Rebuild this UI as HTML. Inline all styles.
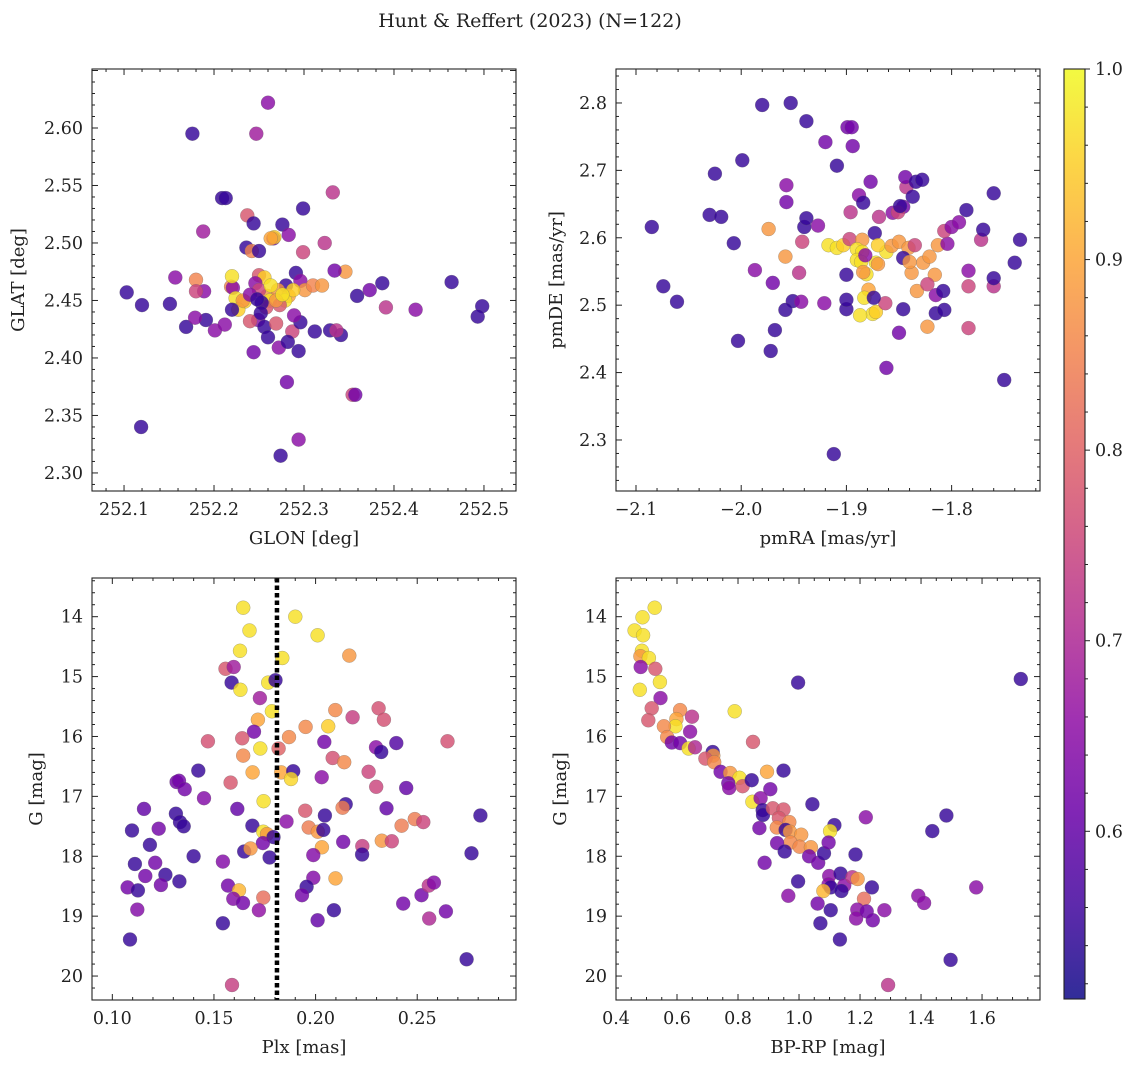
<!DOCTYPE html>
<html><head><meta charset="utf-8"><style>
html,body{margin:0;padding:0;background:#fff;}
svg text{font-family:"DejaVu Serif","Liberation Serif",serif;fill:#222;}
</style></head><body>
<svg id="fig" width="1136" height="1068" xmlns="http://www.w3.org/2000/svg">
<text x="530" y="27" text-anchor="middle" font-size="19">Hunt &amp; Reffert (2023) (N=122)</text>
</svg>
<script>
// ---- Panel 1: GLON vs GLAT ----
const glonA=[252.260,252.176,252.247,252.209,252.213,252.299,252.332,252.237,252.188,252.276,252.244,252.236,252.242,252.250,252.266,252.283,252.323,252.299,252.267,252.263,252.157,252.180,252.189,252.219,252.221,252.250,252.256,252.246,252.220,252.103,252.120,252.151,252.191,252.169,252.179,252.224,252.234,252.259,252.280,252.291,252.296,252.271,252.283,252.301,252.310,252.320,252.346,252.334,252.359,252.373,252.387,252.391,252.424,252.464,252.498,252.493,252.227,252.232,252.262,252.279,252.288,252.273,252.258,252.249,252.220,252.240,252.256,252.269,252.287,252.296,252.312,252.329,252.341,252.336,252.201,252.180,252.212,252.289,252.272,252.294,252.282,252.244,252.260,252.281,252.294,252.274,252.354,252.357,252.119,252.269,252.250,252.253,252.263,252.276,252.240,252.252,252.248];
const glatA=[2.622,2.595,2.595,2.539,2.539,2.530,2.544,2.524,2.510,2.516,2.517,2.496,2.493,2.493,2.504,2.507,2.500,2.492,2.505,2.504,2.470,2.468,2.458,2.462,2.461,2.472,2.470,2.465,2.471,2.457,2.446,2.447,2.433,2.427,2.435,2.452,2.449,2.454,2.463,2.474,2.467,2.459,2.454,2.459,2.463,2.463,2.475,2.476,2.454,2.459,2.465,2.444,2.442,2.466,2.445,2.436,2.442,2.450,2.450,2.450,2.459,2.446,2.444,2.433,2.442,2.432,2.427,2.430,2.423,2.431,2.423,2.424,2.420,2.424,2.424,2.458,2.429,2.437,2.409,2.406,2.414,2.405,2.418,2.379,2.329,2.315,2.368,2.368,2.340,2.450,2.459,2.448,2.463,2.455,2.455,2.439,2.451];
const prob1=[.65,.55,.68,.55,.55,.55,.72,.78,.68,.55,.55,.55,.85,.55,.62,.65,.72,.75,.95,.9,.65,.85,.65,.85,.65,.78,.95,.65,.97,.55,.55,.55,.55,.55,.65,.97,.95,.88,.55,.55,.65,.88,.9,.88,.85,.88,.88,.62,.55,.62,.55,.72,.65,.55,.55,.55,.95,.88,.97,.97,.95,.78,.78,.65,.55,.78,.55,.78,.75,.55,.55,.55,.55,.72,.65,.75,.65,.65,.65,.55,.55,.62,.55,.62,.65,.55,.75,.62,.55,.88,.75,.55,.97,.97,.65,.55,.55];
// ---- Panel 2: pmRA vs pmDE ----
const pmraA=[-2.085,-2.074,-2.061,-2.025,-2.030,-2.019,-2.007,-2.003,-1.980,-1.953,-1.999,-1.938,-1.920,-1.899,-1.895,-1.894,-1.909,-1.940,-1.938,-1.927,-1.957,-1.957,-1.974,-1.958,-1.942,-1.917,-1.909,-1.903,-1.897,-1.896,-1.888,-1.877,-1.884,-1.869,-1.843,-1.844,-1.834,-1.828,-1.837,-1.846,-1.856,-1.851,-1.849,-1.873,-1.885,-1.890,-1.885,-1.890,-1.886,-1.881,-1.872,-1.862,-1.870,-1.870,-1.857,-1.850,-1.841,-1.846,-1.838,-1.840,-1.827,-1.835,-1.821,-1.813,-1.804,-1.807,-1.800,-1.793,-1.786,-1.760,-1.884,-1.879,-1.883,-1.875,-1.887,-1.872,-1.863,-1.874,-1.900,-1.882,-1.900,-1.900,-1.921,-1.951,-1.943,-1.958,-1.945,-1.970,-1.972,-1.968,-1.987,-1.862,-1.850,-1.846,-1.833,-1.823,-1.816,-1.815,-1.808,-1.815,-1.823,-1.784,-1.784,-1.772,-1.770,-1.735,-1.740,-1.750,-1.912,-1.784,-1.760,-1.760,-1.807];
const pmdeA=[2.616,2.528,2.505,2.695,2.634,2.631,2.592,2.447,2.797,2.800,2.715,2.773,2.742,2.764,2.764,2.736,2.707,2.616,2.629,2.618,2.653,2.678,2.613,2.572,2.594,2.589,2.585,2.589,2.598,2.638,2.663,2.683,2.652,2.631,2.675,2.690,2.683,2.686,2.661,2.646,2.637,2.638,2.647,2.607,2.597,2.583,2.579,2.567,2.564,2.546,2.563,2.579,2.589,2.561,2.588,2.594,2.585,2.570,2.548,2.564,2.563,2.589,2.572,2.589,2.591,2.610,2.616,2.623,2.641,2.666,2.549,2.523,2.511,2.487,2.485,2.490,2.503,2.511,2.545,2.574,2.494,2.508,2.503,2.506,2.505,2.493,2.548,2.533,2.432,2.463,2.552,2.407,2.459,2.494,2.521,2.468,2.545,2.515,2.521,2.488,2.531,2.551,2.528,2.597,2.612,2.597,2.563,2.389,2.279,2.466,2.528,2.540,2.493];
const prob2=[.55,.55,.55,.55,.55,.55,.55,.55,.55,.55,.55,.55,.62,.62,.62,.62,.55,.55,.55,.65,.62,.65,.88,.88,.75,.97,.97,.95,.75,.72,.65,.62,.55,.72,.72,.62,.55,.55,.55,.62,.65,.75,.55,.55,.88,.97,.97,.97,.97,.97,.97,.97,.95,.88,.88,.88,.88,.55,.88,.88,.88,.75,.88,.88,.65,.75,.65,.65,.55,.55,.88,.9,.97,.97,.97,.95,.75,.55,.55,.65,.55,.55,.65,.55,.65,.55,.72,.62,.55,.55,.65,.62,.62,.55,.88,.88,.88,.65,.55,.55,.75,.65,.75,.72,.55,.55,.55,.55,.55,.75,.72,.55,.55];
// ---- Panel 3: Plx vs G ----
const plxA=[.1644,.190,.1675,.201,.1628,.1836,.2166,.1557,.1597,.1587,.1630,.1767,.1803,.1726,.1785,.2097,.231,.2336,.2182,.1716,.1951,.2062,.1697,.1470,.1639,.1869,.2043,.2397,.2649,.1728,.1818,.2297,.2323,.1644,.2084,.2141,.1423,.1690,.1831,.1890,.1879,.2261,.2030,.1316,.1328,.1356,.1582,.1451,.1744,.2298,.2446,.1156,.1615,.1949,.2148,.2133,.2349,.2811,.2046,.1313,.1333,.1351,.1097,.1228,.1689,.1743,.1761,.1793,.1741,.1857,.1966,.2011,.2038,.2031,.2136,.2230,.2229,.2326,.2375,.2423,.2488,.2530,.2767,.1185,.140,.1111,.1211,.1649,.1680,.1774,.1544,.1989,.1162,.1261,.1330,.1075,.1126,.1239,.1569,.1623,.1595,.1643,.1743,.1721,.1989,.1956,.1933,.2098,.2090,.2010,.2431,.2521,.2557,.2582,.2641,.2559,.1123,.1544,.1087,.2743,.1589];
const gmag3=[13.85,14.00,14.23,14.31,14.57,14.69,14.65,14.87,14.84,15.10,15.22,15.10,15.06,15.36,15.58,15.56,15.53,15.72,15.68,15.72,15.84,15.83,15.92,16.08,16.03,16.01,16.09,16.11,16.08,16.20,16.20,16.18,16.26,16.32,16.36,16.43,16.57,16.60,16.60,16.58,16.71,16.59,16.68,16.76,16.74,16.88,16.77,17.03,17.08,16.84,16.86,17.21,17.21,17.24,17.13,17.19,17.20,17.32,17.32,17.29,17.43,17.50,17.57,17.54,17.49,17.59,17.63,17.68,17.78,17.42,17.52,17.59,17.56,17.85,17.76,17.83,17.97,17.74,17.75,17.49,17.38,17.43,17.95,17.81,18.00,18.13,18.11,17.92,17.87,18.02,18.09,17.98,18.33,18.31,18.42,18.52,18.57,18.48,18.49,18.57,18.71,18.78,18.69,18.90,18.36,18.51,18.65,18.37,18.90,19.07,18.79,18.65,18.49,18.44,18.92,19.04,18.89,19.12,19.39,19.72,20.15];
const prob3=[.97,.97,.97,.97,.97,.97,.88,.78,.68,.55,.97,.97,.55,.68,.97,.86,.77,.77,.74,.9,.86,.95,.62,.77,.78,.86,.62,.58,.77,.97,.8,.65,.55,.86,.77,.86,.55,.9,.9,.55,.96,.75,.65,.62,.62,.62,.78,.64,.97,.75,.6,.6,.6,.78,.55,.84,.6,.55,.55,.55,.55,.55,.55,.62,.55,.97,.88,.55,.62,.65,.84,.88,.55,.9,.62,.74,.55,.88,.75,.84,.84,.75,.55,.55,.55,.55,.62,.55,.88,.55,.64,.64,.62,.55,.55,.62,.55,.62,.62,.92,.64,.62,.82,.66,.64,.55,.62,.9,.55,.6,.62,.62,.72,.64,.62,.7,.64,.55,.55,.55,.74];
// ---- Panel 4: BP-RP vs G ----
const bprpA=[.527,.487,.461,.489,.485,.480,.508,.481,.529,.544,.478,.997,1.727,.546,.517,.506,.610,.598,.595,.557,.649,.643,.789,.849,.568,.583,.610,.638,.659,.717,.719,.693,.722,.743,.774,.805,.768,.771,.815,.845,.895,.949,.906,.847,1.044,.874,.881,.882,.914,.949,.934,.968,.927,.870,.956,.970,1.007,.972,1.002,1.039,.928,.953,1.033,1.063,1.082,1.116,1.102,1.097,1.219,1.185,.887,1.099,1.136,1.097,1.104,1.148,1.139,1.175,1.192,1.080,1.239,1.213,.997,.965,1.061,1.104,1.191,1.187,1.222,1.242,1.280,1.070,1.134,1.391,1.410,1.437,1.483,1.581,1.497,1.292];
const gmag4=[13.85,14.01,14.23,14.31,14.57,14.66,14.69,14.84,14.87,15.09,15.22,15.10,15.04,15.36,15.53,15.73,15.56,15.71,15.83,15.83,15.67,15.92,15.58,16.09,16.01,16.10,16.11,16.20,16.18,16.26,16.32,16.37,16.43,16.59,16.61,16.69,16.78,16.86,16.83,16.73,16.59,16.57,16.88,17.09,17.13,17.03,17.23,17.31,17.20,17.22,17.36,17.43,17.52,17.53,17.56,17.59,17.64,17.77,17.84,17.85,17.78,17.92,18.00,18.11,17.95,17.48,17.58,17.77,17.35,17.97,18.11,18.33,18.29,18.47,18.52,18.49,18.58,18.35,18.38,18.58,18.52,18.71,18.42,18.66,18.79,18.90,18.89,19.04,18.92,19.07,18.90,19.12,19.39,18.66,18.78,17.58,17.32,18.52,19.73,20.15];
const prob4=[.97,.97,.97,.97,.97,.88,.97,.65,.78,.97,.97,.55,.55,.65,.78,.78,.86,.9,.97,.86,.72,.65,.97,.78,.86,.62,.62,.97,.7,.55,.88,.78,.86,.62,.88,.97,.62,.65,.78,.55,.9,.55,.62,.97,.55,.65,.55,.55,.78,.78,.78,.86,.86,.62,.55,.88,.88,.86,.86,.88,.62,.55,.62,.62,.55,.55,.97,.62,.65,.55,.62,.65,.55,.65,.55,.65,.55,.72,.88,.92,.55,.82,.55,.65,.62,.55,.65,.65,.62,.62,.65,.55,.55,.65,.65,.55,.55,.65,.55,.72];
// ---- Axis tick labels ----
const ticks1x=[252.1,252.2,252.3,252.4,252.5], ticks1y=[2.30,2.35,2.40,2.45,2.50,2.55,2.60];
const ticks2x=[-2.1,-2.0,-1.9,-1.8], ticks2y=[2.3,2.4,2.5,2.6,2.7,2.8];
const ticks3x=[0.10,0.15,0.20,0.25], ticksG=[14,15,16,17,18,19,20];
const ticks4x=[0.4,0.6,0.8,1.0,1.2,1.4,1.6];
const ticksCb=[0.6,0.7,0.8,0.9,1.0];
const plxCut=0.181;
const pMin=0.512,pMax=1.0;

const NS="http://www.w3.org/2000/svg";
const svg=document.getElementById('fig');
function mk(tag,attrs,parent){const e=document.createElementNS(NS,tag);for(const k in attrs)e.setAttribute(k,attrs[k]);(parent||svg).appendChild(e);return e;}
const plasma=[[13,8,135],[65,4,157],[106,0,168],[143,13,164],[177,42,144],[204,71,120],[225,100,98],[242,132,75],[252,166,54],[252,206,37],[240,249,33]];
function cmap(p){let t=(p-pMin)/(pMax-pMin);t=Math.max(0,Math.min(1,t))*10;const i=Math.min(9,Math.floor(t)),f=t-i;const a=plasma[i],b=plasma[i+1];return `rgb(${Math.round(a[0]+(b[0]-a[0])*f)},${Math.round(a[1]+(b[1]-a[1])*f)},${Math.round(a[2]+(b[2]-a[2])*f)})`;}
function fmt(v,d){return v<0?'\u2212'+Math.abs(v).toFixed(d):v.toFixed(d);}

function panel(cfg){
  const {name,x0,y0,w,h,xmin,xmax,ymin,ymax,invertY}=cfg;
  const g=mk('g',{});
  
  
  const sx=v=>x0+(v-xmin)/(xmax-xmin)*w;
  const sy=v=>invertY? y0+(v-ymin)/(ymax-ymin)*h : y0+h-(v-ymin)/(ymax-ymin)*h;
  const clipId=name+'-clip';
  const cp=mk('clipPath',{id:clipId},g);mk('rect',{x:x0,y:y0,width:w,height:h},cp);
  const pts=mk('g',{'clip-path':`url(#${clipId})`},g);
  
  
  cfg.xs.forEach((xv,i)=>{
    const c=mk('circle',{cx:sx(xv).toFixed(1),cy:sy(cfg.ys[i]).toFixed(1),r:7,fill:cmap(cfg.ps[i]),'fill-opacity':0.82,stroke:'#666','stroke-opacity':0.5,'stroke-width':0.5},pts);
    
    
  });
  if(cfg.vline!==undefined){
    const l=mk('line',{x1:sx(cfg.vline),x2:sx(cfg.vline),y1:y0,y2:y0+h,stroke:'#000','stroke-width':4.5,'stroke-dasharray':'4.5 3'},g);
    
    
  }
  const fr=mk('rect',{x:x0,y:y0,width:w,height:h,fill:'none',stroke:'#222','stroke-width':1.1},g);
  
  
  const tg=mk('g',{stroke:'#222','stroke-width':1},g);
  const minorX=cfg.xstep/cfg.xsub, minorY=cfg.ystep/cfg.ysub;
  for(let k=Math.ceil(xmin/minorX-1e-9); k*minorX<=xmax; k++){
    const v=k*minorX;const X=sx(v);const maj=(k%cfg.xsub)===0;const L=maj?6:3;
    mk('line',{x1:X,x2:X,y1:y0+h,y2:y0+h-L},tg);mk('line',{x1:X,x2:X,y1:y0,y2:y0+L},tg);
  }
  const ylo=Math.min(ymin,ymax),yhi=Math.max(ymin,ymax);
  for(let k=Math.ceil(ylo/minorY-1e-9); k*minorY<=yhi; k++){
    const v=k*minorY;const Y=sy(v);const maj=(k%cfg.ysub)===0;const L=maj?6:3;
    mk('line',{x1:x0,x2:x0+L,y1:Y,y2:Y},tg);mk('line',{x1:x0+w,x2:x0+w-L,y1:Y,y2:Y},tg);
  }
  cfg.xticks.forEach(v=>{const t=mk('text',{x:sx(v),y:y0+h+24,'text-anchor':'middle','font-size':17.5},g);t.textContent=fmt(v,cfg.xd);
    });
  cfg.yticks.forEach(v=>{const t=mk('text',{x:x0-9,y:sy(v)+6,'text-anchor':'end','font-size':17.5},g);t.textContent=fmt(v,cfg.yd);
    });
  const xl=mk('text',{x:x0+w/2,y:y0+h+53,'text-anchor':'middle','font-size':18},g);xl.textContent=cfg.xlabel;
  
  const yx=cfg.ylabX, yy=y0+h/2;
  const yl=mk('text',{x:yx,y:yy,'text-anchor':'middle','font-size':18,transform:`rotate(-90 ${yx} ${yy})`},g);yl.textContent=cfg.ylabel;
  
}

panel({name:'position-panel',x0:92,y0:69,w:424,h:422,xmin:252.0644,xmax:252.5356,ymin:2.2843,ymax:2.6513,xs:glonA,ys:glatA,ps:prob1,
  xstep:0.1,xsub:5,ystep:0.05,ysub:5,xticks:ticks1x,yticks:ticks1y,xd:1,yd:2,xlabel:'GLON [deg]',ylabel:'GLAT [deg]',ylabX:24});
panel({name:'proper-motion-panel',x0:616,y0:69,w:424,h:422,xmin:-2.119,xmax:-1.716,ymin:2.2243,ymax:2.8504,xs:pmraA,ys:pmdeA,ps:prob2,
  xstep:0.1,xsub:5,ystep:0.1,ysub:5,xticks:ticks2x,yticks:ticks2y,xd:1,yd:1,xlabel:'pmRA [mas/yr]',ylabel:'pmDE [mas/yr]',ylabX:562});
panel({name:'parallax-panel',x0:92,y0:578,w:424,h:422,xmin:0.0900,xmax:0.2986,ymin:13.354,ymax:20.40,invertY:true,xs:plxA,ys:gmag3,ps:prob3,
  xstep:0.05,xsub:5,ystep:1,ysub:5,xticks:ticks3x,yticks:ticksG,xd:2,yd:0,xlabel:'Plx [mas]',ylabel:'G [mag]',ylabX:42,vline:plxCut});
panel({name:'cmd-panel',x0:616,y0:578,w:424,h:422,xmin:0.4,xmax:1.790,ymin:13.354,ymax:20.40,invertY:true,xs:bprpA,ys:gmag4,ps:prob4,
  xstep:0.2,xsub:4,ystep:1,ysub:5,xticks:ticks4x,yticks:ticksG,xd:1,yd:0,xlabel:'BP-RP [mag]',ylabel:'G [mag]',ylabX:566});

// ---- Colorbar ----
const cb=mk('g',{});


const defs=mk('defs',{},cb);
const grad=mk('linearGradient',{id:'cbgrad',x1:0,y1:1,x2:0,y2:0},defs);
plasma.forEach((c,i)=>mk('stop',{offset:i/10,'stop-color':`rgb(${c[0]},${c[1]},${c[2]})`,'stop-opacity':0.85},grad));
const cbx=1064,cby=69,cbw=21,cbh=930;
mk('rect',{x:cbx,y:cby,width:cbw,height:cbh,fill:'url(#cbgrad)'},cb);
mk('rect',{x:cbx,y:cby,width:cbw,height:cbh,fill:'none',stroke:'#222','stroke-width':1.1},cb);
const cy=v=>cby+cbh-(v-pMin)/(pMax-pMin)*cbh;
for(let k=Math.ceil(pMin/0.02-1e-9); k*0.02<=pMax+1e-9; k++){
  const v=k*0.02;const maj=(k%5)===0;
  mk('line',{x1:cbx+cbw,x2:cbx+cbw+(maj?5:3),y1:cy(v),y2:cy(v),stroke:'#222','stroke-width':1},cb);
}
ticksCb.forEach(v=>{const t=mk('text',{x:cbx+cbw+10,y:cy(v)+6,'font-size':17.5},cb);t.textContent=v.toFixed(1);
  });
</script>
</body></html>
